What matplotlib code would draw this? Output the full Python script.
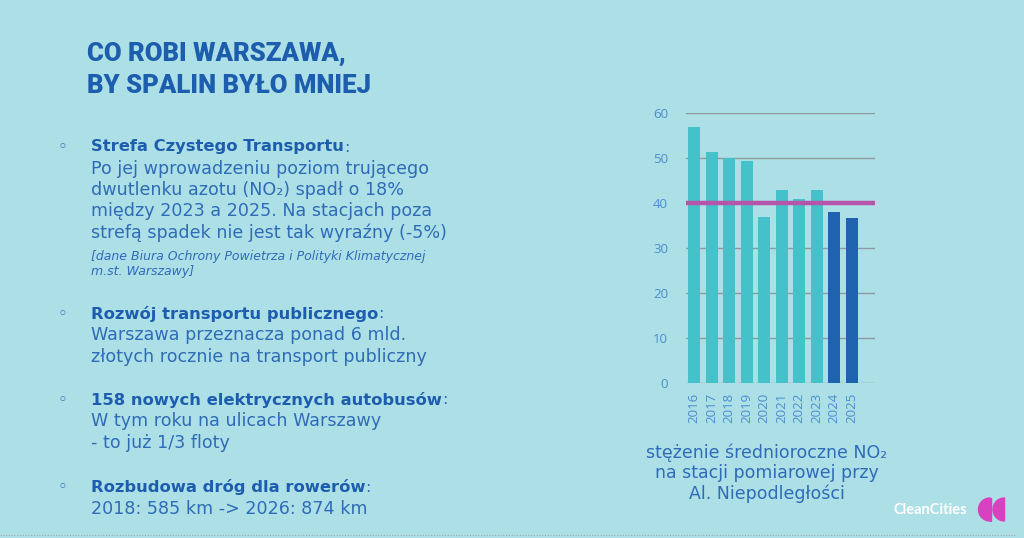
import matplotlib
matplotlib.use("Agg")
import matplotlib.pyplot as plt
from matplotlib.patches import Wedge, Rectangle
from matplotlib.lines import Line2D

# ---- data ----
years = ['2016', '2017', '2018', '2019', '2020', '2021', '2022', '2023', '2024', '2025']
no2_values = [57, 51.5, 50, 49.5, 37, 43, 41, 43, 38, 36.7]
highlight_years = ['2024', '2025']
limit_value = 40
y_ticks = [0, 10, 20, 30, 40, 50, 60]

title_lines = ["CO ROBI WARSZAWA,", "BY SPALIN BYŁO MNIEJ"]
caption_lines = ["stężenie średnioroczne NO₂", "na stacji pomiarowej przy", "Al. Niepodległości"]

bullets = [
    ("Strefa Czystego Transportu",
     ["Po jej wprowadzeniu poziom trującego",
      "dwutlenku azotu (NO₂) spadł o 18%",
      "między 2023 a 2025. Na stacjach poza",
      "strefą spadek nie jest tak wyraźny (-5%)"]),
    ("Rozwój transportu publicznego",
     ["Warszawa przeznacza ponad 6 mld.",
      "złotych rocznie na transport publiczny"]),
    ("158 nowych elektrycznych autobusów",
     ["W tym roku na ulicach Warszawy",
      "- to już 1/3 floty"]),
    ("Rozbudowa dróg dla rowerów",
     ["2018: 585 km -> 2026: 874 km"]),
]
source_lines = ["[dane Biura Ochrony Powietrza i Polityki Klimatycznej", "m.st. Warszawy]"]

# ---- style ----
BG = "#ADDFE6"
TEAL = "#45C2C9"
DARK = "#1E62B0"
TITLE_C = "#1D5DAE"
TEXT_C = "#2E6CB8"
TICK_C = "#4A8DD0"
LIMIT_C = "#B455AA"
GRID_C = "#8E9A9E"
FONT = ["DejaVu Sans"]
TICKFONT = ["Open Sans", "DejaVu Sans"]

W, H = 1024, 538
fig = plt.figure(figsize=(W / 100, H / 100), dpi=100)
fig.patch.set_facecolor(BG)

def fx(x):
    return x / W

def fy(y):
    return 1 - y / H

# ---- chart ----
ax = fig.add_axes([fx(686), fy(383.3), fx(875) - fx(686), (383.3 - 113.3) / H])
ax.set_facecolor(BG)
colors = [DARK if y in highlight_years else TEAL for y in years]
xpos = list(range(len(years)))
ax.bar(xpos, no2_values, width=0.70, color=colors, zorder=2)
ax.set_ylim(0, 60)
ax.set_xlim(-0.47, 10.33)
ax.set_yticks(y_ticks)
ax.set_xticks(xpos)
ax.set_xticklabels(years, rotation=90, fontsize=9.5, color=TICK_C, family=TICKFONT)
ax.set_yticklabels([str(t) for t in y_ticks], fontsize=9.5, color=TICK_C, family=TICKFONT)
ax.tick_params(axis='both', length=0)
ax.tick_params(axis='y', pad=13)
ax.tick_params(axis='x', pad=7)
ax.grid(axis='y', color=GRID_C, linewidth=1.0, zorder=1)
for s in ax.spines.values():
    s.set_visible(False)
ax.axhline(limit_value, color=LIMIT_C, linewidth=3.2, zorder=3)

# ---- caption ----
for i, line in enumerate(caption_lines):
    fig.text(fx(767), fy(453 + i * 20.5), line, ha='center', va='center',
             fontsize=12.5, color=TEXT_C, family=FONT)

# ---- title ----
for i, line in enumerate(title_lines):
    fig.text(fx(87), fy(54 + i * 32), line, ha='left', va='center',
             fontsize=18.5, color=TITLE_C, family=["Roboto", "DejaVu Sans"], weight='black')

# ---- bullets ----
starts = [147, 314, 400, 487]
LS = 21.5
for (head, body), y0 in zip(bullets, starts):
    fig.text(fx(62), fy(y0), "◦", ha='center', va='center', fontsize=12,
             color=TEXT_C, family=["DejaVu Sans"])
    t = fig.text(fx(91), fy(y0), head, ha='left', va='center', fontsize=11.8,
                 color=TITLE_C, family=FONT, weight='bold')
    fig.add_artist(plt.Annotation(":", xy=(1, 0.5), xycoords=t, va='center', ha='left',
                                  fontsize=11.8, color=TEXT_C, family=FONT))
    for j, line in enumerate(body):
        fig.text(fx(91), fy(y0 + (j + 1) * LS), line, ha='left', va='center',
                 fontsize=12.6, color=TEXT_C, family=FONT)

for j, line in enumerate(source_lines):
    fig.text(fx(91), fy(257 + j * 15), line, ha='left', va='center', fontsize=9,
             color=TEXT_C, family=FONT, style='italic')

# ---- logo ----
fig.text(fx(893), fy(510), "CleanCities", ha='left', va='center', fontsize=10.5,
         color='white', family=["Lato", "DejaVu Sans"], weight='bold')
logo_ax = fig.add_axes([fx(976), fy(522), fx(30), 25 / H])
logo_ax.set_xlim(0, 30)
logo_ax.set_ylim(0, 25)
logo_ax.set_aspect('equal')
logo_ax.axis('off')
MAG = "#D842C0"
logo_ax.add_patch(Wedge((14, 12.5), 11.5, 90, 270, color=MAG))
logo_ax.add_patch(Rectangle((13.9, 1.0), 0.6, 23, color=MAG))
logo_ax.add_patch(Wedge((28.5, 12.5), 11.5, 90, 270, color=MAG))

# bottom dotted line
fig.add_artist(Line2D([fx(0), fx(1015)], [fy(535), fy(535)], color="#9AA8AC",
                      linewidth=0.8, linestyle=(0, (1, 1.5))))

fig.savefig("out.png", dpi=100, facecolor=BG)
